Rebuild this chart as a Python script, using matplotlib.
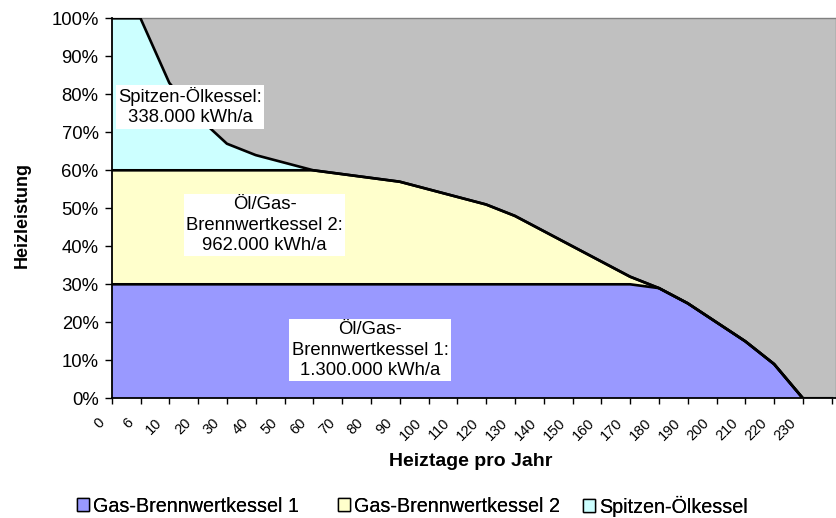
import matplotlib
matplotlib.use("Agg")
import matplotlib.pyplot as plt
from matplotlib.patches import Patch
from matplotlib.transforms import ScaledTranslation
import numpy as np

plt.rcParams['font.family'] = ['Liberation Sans', 'DejaVu Sans']

# Categories (Heiztage pro Jahr); last category is unlabeled
days = ["0", "6", "10", "20", "30", "40", "50", "60", "70", "80", "90", "100",
        "110", "120", "130", "140", "150", "160", "170", "180", "190", "200",
        "210", "220", "230", ""]
# Total heat demand (% of peak)
demand = [100, 100, 83, 74, 67, 64, 62, 60, 59, 58, 57, 55, 53, 51, 48, 44,
          40, 36, 32, 29, 25, 20, 15, 9, 0, 0]
# Capacity limits of the boilers (% of peak)
limit_1 = 30
limit_2 = 60

series_names = ["Gas-Brennwertkessel 1", "Gas-Brennwertkessel 2", "Spitzen-Ölkessel"]
colors = ["#9999FF", "#FFFFCC", "#CCFFFF"]

box_texts = ["Spitzen-Ölkessel:\n338.000 kWh/a",
             "Öl/Gas-\nBrennwertkessel 2:\n962.000 kWh/a",
             "Öl/Gas-\nBrennwertkessel 1:\n1.300.000 kWh/a"]

d = np.array(demand, dtype=float)
s1 = np.minimum(d, limit_1)
s2 = np.minimum(d, limit_2) - s1
s3 = d - s1 - s2
x = np.arange(len(days))

W, H = 837, 518
fig = plt.figure(figsize=(W / 100, H / 100), dpi=100)
left, right = 111.7 / W, 835.5 / W
bottom, top = (H - 398.3) / H, (H - 18.3) / H
ax = fig.add_axes([left, bottom, right - left, top - bottom])
ax.set_facecolor("#C0C0C0")

base = np.zeros_like(d)
for vals, c in zip([s1, s2, s3], colors):
    ax.fill_between(x, base, base + vals, facecolor=c, edgecolor="none", zorder=2)
    base = base + vals
tops = [s1, s1 + s2, s1 + s2 + s3]
for t in tops:
    ax.plot(x, t, color="black", lw=1.9, zorder=3, solid_joinstyle="round")

ax.set_xlim(0, (835.5 - 111.7) / 28.8)
ax.set_ylim(0, 100)
ax.set_xticks(x)
ax.set_xticklabels(days, rotation=45, ha="right", va="baseline",
                   rotation_mode="anchor", fontsize=10.5)
ax.set_yticks(np.arange(0, 101, 10))
ax.set_yticklabels([f"{v}%" for v in range(0, 101, 10)], fontsize=13.3)
ax.tick_params(axis="x", length=4, width=1, pad=14)
ax.tick_params(axis="y", length=5, width=1, pad=4.5)
shift = ScaledTranslation(-6.5 / 100, 0, fig.dpi_scale_trans)
for lab in ax.get_xticklabels():
    lab.set_transform(lab.get_transform() + shift)

for s in ["left", "bottom"]:
    ax.spines[s].set_color("black")
    ax.spines[s].set_linewidth(1.3)
    ax.spines[s].set_zorder(4)
for s in ["top", "right"]:
    ax.spines[s].set_color("#808080")
    ax.spines[s].set_linewidth(1.0)

# annotation boxes (data coordinates)
box_pos = [(2.72, 76.7), (5.31, 45.6), (8.97, 12.7)]
for (bx, by), txt in zip(box_pos, box_texts):
    ax.text(bx, by, txt, ha="center", va="center", fontsize=13.3,
            linespacing=1.25, zorder=5,
            bbox=dict(boxstyle="square,pad=0.12", facecolor="white", edgecolor="none"))

fig.text(471 / W, 1 - 461 / H, "Heiztage pro Jahr", ha="center", va="center",
         fontsize=14, fontweight="bold")
fig.text(22 / W, 1 - 215 / H, "Heizleistung", ha="center", va="center",
         rotation=90, fontsize=13, fontweight="bold")

# legend: one entry per series at the positions seen in the reference
leg_x = [77, 338, 583]
for name, c, lx in zip(series_names, colors, leg_x):
    h = Patch(facecolor=c, edgecolor="black", linewidth=1.0)
    lg = fig.legend([h], [name], loc="center left",
                    bbox_to_anchor=(lx / W, 1 - 506 / H), frameon=False,
                    fontsize=14.2, handlelength=0.62, handleheight=0.62,
                    handletextpad=0.2, borderpad=0, borderaxespad=0)
    fig.add_artist(lg)

fig.savefig("out.png", dpi=100)
